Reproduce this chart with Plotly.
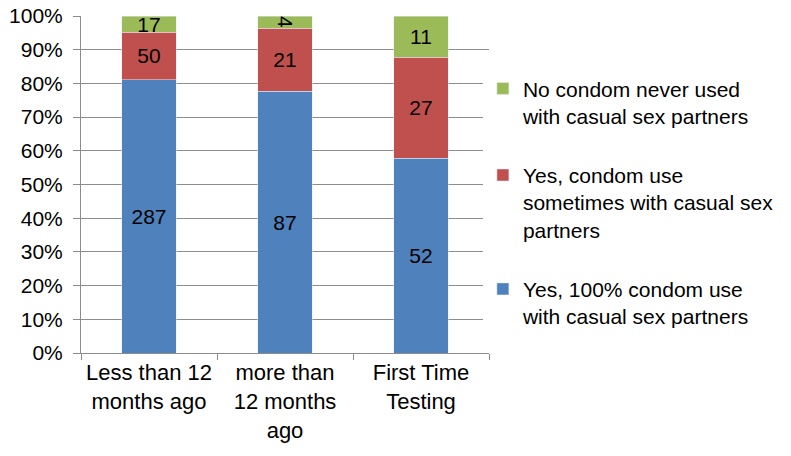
import plotly.graph_objects as go

categories = ["Less than 12<br>months ago", "more than<br>12 months<br>ago", "First Time<br>Testing"]
always_use = [287, 87, 52]
sometimes_use = [50, 21, 27]
never_use = [17, 4, 11]

series = [
    ("Yes, 100% condom use<br>with casual sex partners", always_use, "#4F81BD"),
    ("Yes, condom use<br>sometimes with casual sex<br>partners", sometimes_use, "#C0504D"),
    ("No condom never used<br>with casual sex partners", never_use, "#9BBB59"),
]

fig = go.Figure()
for i, (name, vals, color) in enumerate(series):
    fig.add_trace(go.Bar(
        name=name,
        x=categories,
        y=vals,
        text=vals,
        textposition="inside",
        insidetextanchor="middle",
        constraintext="none",
        textfont=dict(color="black", size=21),
        marker_color=color,
        legendgroup=str(i),
        legendrank=3 - i,
    ))

fig.update_layout(
    barmode="stack",
    barnorm="percent",
    bargap=0.6,
    width=791,
    height=456,
    margin=dict(l=81, r=302, t=16, b=103),
    plot_bgcolor="white",
    paper_bgcolor="white",
    font=dict(family="Liberation Sans, Arial, sans-serif", size=21, color="black"),
    legend=dict(
        x=0.985, y=0.845, xanchor="left", yanchor="top",
        traceorder="grouped",
        tracegroupgap=29,
        valign="top",
        font=dict(size=21),
        itemwidth=30,
    ),
)
fig.update_yaxes(
    range=[0, 100],
    dtick=10,
    ticksuffix="%",
    showgrid=True,
    gridcolor="#8c8c8c",
    showline=True,
    linecolor="#8c8c8c",
    ticks="outside",
    ticklen=7,
    tickcolor="#8c8c8c",
    zeroline=False,
    automargin=False,
    ticklabeloverflow="allow",
    ticklabelstandoff=6,
    tickfont=dict(size=21),
)
fig.update_xaxes(
    showline=True,
    linecolor="#8c8c8c",
    ticks="outside",
    tickson="boundaries",
    ticklen=6,
    tickcolor="#8c8c8c",
    automargin=False,
    tickfont=dict(size=22),
)

# drop the default 8px body margin so the figure sits at the page origin
fig.write_html(
    "out.html",
    config={"displayModeBar": False},
    post_script="document.body.style.margin='0';",
)
